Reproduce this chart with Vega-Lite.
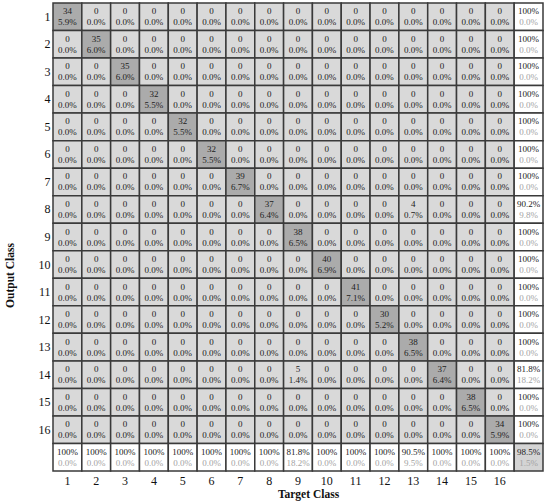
{
"$schema": "https://vega.github.io/schema/vega-lite/v6.json",
"width": 490, "height": 468,
"autosize": {"type": "none"},
"padding": {"left": 53, "top": 3, "right": 7, "bottom": 33},
"data": {"values": [
{"out":1,"tgt":1,"n":"34","pct":"5.9%","cell":"correct"},{"out":1,"tgt":2,"n":"0","pct":"0.0%","cell":"error"},{"out":1,"tgt":3,"n":"0","pct":"0.0%","cell":"error"},{"out":1,"tgt":4,"n":"0","pct":"0.0%","cell":"error"},{"out":1,"tgt":5,"n":"0","pct":"0.0%","cell":"error"},{"out":1,"tgt":6,"n":"0","pct":"0.0%","cell":"error"},{"out":1,"tgt":7,"n":"0","pct":"0.0%","cell":"error"},{"out":1,"tgt":8,"n":"0","pct":"0.0%","cell":"error"},{"out":1,"tgt":9,"n":"0","pct":"0.0%","cell":"error"},{"out":1,"tgt":10,"n":"0","pct":"0.0%","cell":"error"},{"out":1,"tgt":11,"n":"0","pct":"0.0%","cell":"error"},{"out":1,"tgt":12,"n":"0","pct":"0.0%","cell":"error"},{"out":1,"tgt":13,"n":"0","pct":"0.0%","cell":"error"},{"out":1,"tgt":14,"n":"0","pct":"0.0%","cell":"error"},{"out":1,"tgt":15,"n":"0","pct":"0.0%","cell":"error"},{"out":1,"tgt":16,"n":"0","pct":"0.0%","cell":"error"},{"out":1,"tgt":17,"n":"100%","pct":"0.0%","cell":"summary"},
{"out":2,"tgt":1,"n":"0","pct":"0.0%","cell":"error"},{"out":2,"tgt":2,"n":"35","pct":"6.0%","cell":"correct"},{"out":2,"tgt":3,"n":"0","pct":"0.0%","cell":"error"},{"out":2,"tgt":4,"n":"0","pct":"0.0%","cell":"error"},{"out":2,"tgt":5,"n":"0","pct":"0.0%","cell":"error"},{"out":2,"tgt":6,"n":"0","pct":"0.0%","cell":"error"},{"out":2,"tgt":7,"n":"0","pct":"0.0%","cell":"error"},{"out":2,"tgt":8,"n":"0","pct":"0.0%","cell":"error"},{"out":2,"tgt":9,"n":"0","pct":"0.0%","cell":"error"},{"out":2,"tgt":10,"n":"0","pct":"0.0%","cell":"error"},{"out":2,"tgt":11,"n":"0","pct":"0.0%","cell":"error"},{"out":2,"tgt":12,"n":"0","pct":"0.0%","cell":"error"},{"out":2,"tgt":13,"n":"0","pct":"0.0%","cell":"error"},{"out":2,"tgt":14,"n":"0","pct":"0.0%","cell":"error"},{"out":2,"tgt":15,"n":"0","pct":"0.0%","cell":"error"},{"out":2,"tgt":16,"n":"0","pct":"0.0%","cell":"error"},{"out":2,"tgt":17,"n":"100%","pct":"0.0%","cell":"summary"},
{"out":3,"tgt":1,"n":"0","pct":"0.0%","cell":"error"},{"out":3,"tgt":2,"n":"0","pct":"0.0%","cell":"error"},{"out":3,"tgt":3,"n":"35","pct":"6.0%","cell":"correct"},{"out":3,"tgt":4,"n":"0","pct":"0.0%","cell":"error"},{"out":3,"tgt":5,"n":"0","pct":"0.0%","cell":"error"},{"out":3,"tgt":6,"n":"0","pct":"0.0%","cell":"error"},{"out":3,"tgt":7,"n":"0","pct":"0.0%","cell":"error"},{"out":3,"tgt":8,"n":"0","pct":"0.0%","cell":"error"},{"out":3,"tgt":9,"n":"0","pct":"0.0%","cell":"error"},{"out":3,"tgt":10,"n":"0","pct":"0.0%","cell":"error"},{"out":3,"tgt":11,"n":"0","pct":"0.0%","cell":"error"},{"out":3,"tgt":12,"n":"0","pct":"0.0%","cell":"error"},{"out":3,"tgt":13,"n":"0","pct":"0.0%","cell":"error"},{"out":3,"tgt":14,"n":"0","pct":"0.0%","cell":"error"},{"out":3,"tgt":15,"n":"0","pct":"0.0%","cell":"error"},{"out":3,"tgt":16,"n":"0","pct":"0.0%","cell":"error"},{"out":3,"tgt":17,"n":"100%","pct":"0.0%","cell":"summary"},
{"out":4,"tgt":1,"n":"0","pct":"0.0%","cell":"error"},{"out":4,"tgt":2,"n":"0","pct":"0.0%","cell":"error"},{"out":4,"tgt":3,"n":"0","pct":"0.0%","cell":"error"},{"out":4,"tgt":4,"n":"32","pct":"5.5%","cell":"correct"},{"out":4,"tgt":5,"n":"0","pct":"0.0%","cell":"error"},{"out":4,"tgt":6,"n":"0","pct":"0.0%","cell":"error"},{"out":4,"tgt":7,"n":"0","pct":"0.0%","cell":"error"},{"out":4,"tgt":8,"n":"0","pct":"0.0%","cell":"error"},{"out":4,"tgt":9,"n":"0","pct":"0.0%","cell":"error"},{"out":4,"tgt":10,"n":"0","pct":"0.0%","cell":"error"},{"out":4,"tgt":11,"n":"0","pct":"0.0%","cell":"error"},{"out":4,"tgt":12,"n":"0","pct":"0.0%","cell":"error"},{"out":4,"tgt":13,"n":"0","pct":"0.0%","cell":"error"},{"out":4,"tgt":14,"n":"0","pct":"0.0%","cell":"error"},{"out":4,"tgt":15,"n":"0","pct":"0.0%","cell":"error"},{"out":4,"tgt":16,"n":"0","pct":"0.0%","cell":"error"},{"out":4,"tgt":17,"n":"100%","pct":"0.0%","cell":"summary"},
{"out":5,"tgt":1,"n":"0","pct":"0.0%","cell":"error"},{"out":5,"tgt":2,"n":"0","pct":"0.0%","cell":"error"},{"out":5,"tgt":3,"n":"0","pct":"0.0%","cell":"error"},{"out":5,"tgt":4,"n":"0","pct":"0.0%","cell":"error"},{"out":5,"tgt":5,"n":"32","pct":"5.5%","cell":"correct"},{"out":5,"tgt":6,"n":"0","pct":"0.0%","cell":"error"},{"out":5,"tgt":7,"n":"0","pct":"0.0%","cell":"error"},{"out":5,"tgt":8,"n":"0","pct":"0.0%","cell":"error"},{"out":5,"tgt":9,"n":"0","pct":"0.0%","cell":"error"},{"out":5,"tgt":10,"n":"0","pct":"0.0%","cell":"error"},{"out":5,"tgt":11,"n":"0","pct":"0.0%","cell":"error"},{"out":5,"tgt":12,"n":"0","pct":"0.0%","cell":"error"},{"out":5,"tgt":13,"n":"0","pct":"0.0%","cell":"error"},{"out":5,"tgt":14,"n":"0","pct":"0.0%","cell":"error"},{"out":5,"tgt":15,"n":"0","pct":"0.0%","cell":"error"},{"out":5,"tgt":16,"n":"0","pct":"0.0%","cell":"error"},{"out":5,"tgt":17,"n":"100%","pct":"0.0%","cell":"summary"},
{"out":6,"tgt":1,"n":"0","pct":"0.0%","cell":"error"},{"out":6,"tgt":2,"n":"0","pct":"0.0%","cell":"error"},{"out":6,"tgt":3,"n":"0","pct":"0.0%","cell":"error"},{"out":6,"tgt":4,"n":"0","pct":"0.0%","cell":"error"},{"out":6,"tgt":5,"n":"0","pct":"0.0%","cell":"error"},{"out":6,"tgt":6,"n":"32","pct":"5.5%","cell":"correct"},{"out":6,"tgt":7,"n":"0","pct":"0.0%","cell":"error"},{"out":6,"tgt":8,"n":"0","pct":"0.0%","cell":"error"},{"out":6,"tgt":9,"n":"0","pct":"0.0%","cell":"error"},{"out":6,"tgt":10,"n":"0","pct":"0.0%","cell":"error"},{"out":6,"tgt":11,"n":"0","pct":"0.0%","cell":"error"},{"out":6,"tgt":12,"n":"0","pct":"0.0%","cell":"error"},{"out":6,"tgt":13,"n":"0","pct":"0.0%","cell":"error"},{"out":6,"tgt":14,"n":"0","pct":"0.0%","cell":"error"},{"out":6,"tgt":15,"n":"0","pct":"0.0%","cell":"error"},{"out":6,"tgt":16,"n":"0","pct":"0.0%","cell":"error"},{"out":6,"tgt":17,"n":"100%","pct":"0.0%","cell":"summary"},
{"out":7,"tgt":1,"n":"0","pct":"0.0%","cell":"error"},{"out":7,"tgt":2,"n":"0","pct":"0.0%","cell":"error"},{"out":7,"tgt":3,"n":"0","pct":"0.0%","cell":"error"},{"out":7,"tgt":4,"n":"0","pct":"0.0%","cell":"error"},{"out":7,"tgt":5,"n":"0","pct":"0.0%","cell":"error"},{"out":7,"tgt":6,"n":"0","pct":"0.0%","cell":"error"},{"out":7,"tgt":7,"n":"39","pct":"6.7%","cell":"correct"},{"out":7,"tgt":8,"n":"0","pct":"0.0%","cell":"error"},{"out":7,"tgt":9,"n":"0","pct":"0.0%","cell":"error"},{"out":7,"tgt":10,"n":"0","pct":"0.0%","cell":"error"},{"out":7,"tgt":11,"n":"0","pct":"0.0%","cell":"error"},{"out":7,"tgt":12,"n":"0","pct":"0.0%","cell":"error"},{"out":7,"tgt":13,"n":"0","pct":"0.0%","cell":"error"},{"out":7,"tgt":14,"n":"0","pct":"0.0%","cell":"error"},{"out":7,"tgt":15,"n":"0","pct":"0.0%","cell":"error"},{"out":7,"tgt":16,"n":"0","pct":"0.0%","cell":"error"},{"out":7,"tgt":17,"n":"100%","pct":"0.0%","cell":"summary"},
{"out":8,"tgt":1,"n":"0","pct":"0.0%","cell":"error"},{"out":8,"tgt":2,"n":"0","pct":"0.0%","cell":"error"},{"out":8,"tgt":3,"n":"0","pct":"0.0%","cell":"error"},{"out":8,"tgt":4,"n":"0","pct":"0.0%","cell":"error"},{"out":8,"tgt":5,"n":"0","pct":"0.0%","cell":"error"},{"out":8,"tgt":6,"n":"0","pct":"0.0%","cell":"error"},{"out":8,"tgt":7,"n":"0","pct":"0.0%","cell":"error"},{"out":8,"tgt":8,"n":"37","pct":"6.4%","cell":"correct"},{"out":8,"tgt":9,"n":"0","pct":"0.0%","cell":"error"},{"out":8,"tgt":10,"n":"0","pct":"0.0%","cell":"error"},{"out":8,"tgt":11,"n":"0","pct":"0.0%","cell":"error"},{"out":8,"tgt":12,"n":"0","pct":"0.0%","cell":"error"},{"out":8,"tgt":13,"n":"4","pct":"0.7%","cell":"error"},{"out":8,"tgt":14,"n":"0","pct":"0.0%","cell":"error"},{"out":8,"tgt":15,"n":"0","pct":"0.0%","cell":"error"},{"out":8,"tgt":16,"n":"0","pct":"0.0%","cell":"error"},{"out":8,"tgt":17,"n":"90.2%","pct":"9.8%","cell":"summary"},
{"out":9,"tgt":1,"n":"0","pct":"0.0%","cell":"error"},{"out":9,"tgt":2,"n":"0","pct":"0.0%","cell":"error"},{"out":9,"tgt":3,"n":"0","pct":"0.0%","cell":"error"},{"out":9,"tgt":4,"n":"0","pct":"0.0%","cell":"error"},{"out":9,"tgt":5,"n":"0","pct":"0.0%","cell":"error"},{"out":9,"tgt":6,"n":"0","pct":"0.0%","cell":"error"},{"out":9,"tgt":7,"n":"0","pct":"0.0%","cell":"error"},{"out":9,"tgt":8,"n":"0","pct":"0.0%","cell":"error"},{"out":9,"tgt":9,"n":"38","pct":"6.5%","cell":"correct"},{"out":9,"tgt":10,"n":"0","pct":"0.0%","cell":"error"},{"out":9,"tgt":11,"n":"0","pct":"0.0%","cell":"error"},{"out":9,"tgt":12,"n":"0","pct":"0.0%","cell":"error"},{"out":9,"tgt":13,"n":"0","pct":"0.0%","cell":"error"},{"out":9,"tgt":14,"n":"0","pct":"0.0%","cell":"error"},{"out":9,"tgt":15,"n":"0","pct":"0.0%","cell":"error"},{"out":9,"tgt":16,"n":"0","pct":"0.0%","cell":"error"},{"out":9,"tgt":17,"n":"100%","pct":"0.0%","cell":"summary"},
{"out":10,"tgt":1,"n":"0","pct":"0.0%","cell":"error"},{"out":10,"tgt":2,"n":"0","pct":"0.0%","cell":"error"},{"out":10,"tgt":3,"n":"0","pct":"0.0%","cell":"error"},{"out":10,"tgt":4,"n":"0","pct":"0.0%","cell":"error"},{"out":10,"tgt":5,"n":"0","pct":"0.0%","cell":"error"},{"out":10,"tgt":6,"n":"0","pct":"0.0%","cell":"error"},{"out":10,"tgt":7,"n":"0","pct":"0.0%","cell":"error"},{"out":10,"tgt":8,"n":"0","pct":"0.0%","cell":"error"},{"out":10,"tgt":9,"n":"0","pct":"0.0%","cell":"error"},{"out":10,"tgt":10,"n":"40","pct":"6.9%","cell":"correct"},{"out":10,"tgt":11,"n":"0","pct":"0.0%","cell":"error"},{"out":10,"tgt":12,"n":"0","pct":"0.0%","cell":"error"},{"out":10,"tgt":13,"n":"0","pct":"0.0%","cell":"error"},{"out":10,"tgt":14,"n":"0","pct":"0.0%","cell":"error"},{"out":10,"tgt":15,"n":"0","pct":"0.0%","cell":"error"},{"out":10,"tgt":16,"n":"0","pct":"0.0%","cell":"error"},{"out":10,"tgt":17,"n":"100%","pct":"0.0%","cell":"summary"},
{"out":11,"tgt":1,"n":"0","pct":"0.0%","cell":"error"},{"out":11,"tgt":2,"n":"0","pct":"0.0%","cell":"error"},{"out":11,"tgt":3,"n":"0","pct":"0.0%","cell":"error"},{"out":11,"tgt":4,"n":"0","pct":"0.0%","cell":"error"},{"out":11,"tgt":5,"n":"0","pct":"0.0%","cell":"error"},{"out":11,"tgt":6,"n":"0","pct":"0.0%","cell":"error"},{"out":11,"tgt":7,"n":"0","pct":"0.0%","cell":"error"},{"out":11,"tgt":8,"n":"0","pct":"0.0%","cell":"error"},{"out":11,"tgt":9,"n":"0","pct":"0.0%","cell":"error"},{"out":11,"tgt":10,"n":"0","pct":"0.0%","cell":"error"},{"out":11,"tgt":11,"n":"41","pct":"7.1%","cell":"correct"},{"out":11,"tgt":12,"n":"0","pct":"0.0%","cell":"error"},{"out":11,"tgt":13,"n":"0","pct":"0.0%","cell":"error"},{"out":11,"tgt":14,"n":"0","pct":"0.0%","cell":"error"},{"out":11,"tgt":15,"n":"0","pct":"0.0%","cell":"error"},{"out":11,"tgt":16,"n":"0","pct":"0.0%","cell":"error"},{"out":11,"tgt":17,"n":"100%","pct":"0.0%","cell":"summary"},
{"out":12,"tgt":1,"n":"0","pct":"0.0%","cell":"error"},{"out":12,"tgt":2,"n":"0","pct":"0.0%","cell":"error"},{"out":12,"tgt":3,"n":"0","pct":"0.0%","cell":"error"},{"out":12,"tgt":4,"n":"0","pct":"0.0%","cell":"error"},{"out":12,"tgt":5,"n":"0","pct":"0.0%","cell":"error"},{"out":12,"tgt":6,"n":"0","pct":"0.0%","cell":"error"},{"out":12,"tgt":7,"n":"0","pct":"0.0%","cell":"error"},{"out":12,"tgt":8,"n":"0","pct":"0.0%","cell":"error"},{"out":12,"tgt":9,"n":"0","pct":"0.0%","cell":"error"},{"out":12,"tgt":10,"n":"0","pct":"0.0%","cell":"error"},{"out":12,"tgt":11,"n":"0","pct":"0.0%","cell":"error"},{"out":12,"tgt":12,"n":"30","pct":"5.2%","cell":"correct"},{"out":12,"tgt":13,"n":"0","pct":"0.0%","cell":"error"},{"out":12,"tgt":14,"n":"0","pct":"0.0%","cell":"error"},{"out":12,"tgt":15,"n":"0","pct":"0.0%","cell":"error"},{"out":12,"tgt":16,"n":"0","pct":"0.0%","cell":"error"},{"out":12,"tgt":17,"n":"100%","pct":"0.0%","cell":"summary"},
{"out":13,"tgt":1,"n":"0","pct":"0.0%","cell":"error"},{"out":13,"tgt":2,"n":"0","pct":"0.0%","cell":"error"},{"out":13,"tgt":3,"n":"0","pct":"0.0%","cell":"error"},{"out":13,"tgt":4,"n":"0","pct":"0.0%","cell":"error"},{"out":13,"tgt":5,"n":"0","pct":"0.0%","cell":"error"},{"out":13,"tgt":6,"n":"0","pct":"0.0%","cell":"error"},{"out":13,"tgt":7,"n":"0","pct":"0.0%","cell":"error"},{"out":13,"tgt":8,"n":"0","pct":"0.0%","cell":"error"},{"out":13,"tgt":9,"n":"0","pct":"0.0%","cell":"error"},{"out":13,"tgt":10,"n":"0","pct":"0.0%","cell":"error"},{"out":13,"tgt":11,"n":"0","pct":"0.0%","cell":"error"},{"out":13,"tgt":12,"n":"0","pct":"0.0%","cell":"error"},{"out":13,"tgt":13,"n":"38","pct":"6.5%","cell":"correct"},{"out":13,"tgt":14,"n":"0","pct":"0.0%","cell":"error"},{"out":13,"tgt":15,"n":"0","pct":"0.0%","cell":"error"},{"out":13,"tgt":16,"n":"0","pct":"0.0%","cell":"error"},{"out":13,"tgt":17,"n":"100%","pct":"0.0%","cell":"summary"},
{"out":14,"tgt":1,"n":"0","pct":"0.0%","cell":"error"},{"out":14,"tgt":2,"n":"0","pct":"0.0%","cell":"error"},{"out":14,"tgt":3,"n":"0","pct":"0.0%","cell":"error"},{"out":14,"tgt":4,"n":"0","pct":"0.0%","cell":"error"},{"out":14,"tgt":5,"n":"0","pct":"0.0%","cell":"error"},{"out":14,"tgt":6,"n":"0","pct":"0.0%","cell":"error"},{"out":14,"tgt":7,"n":"0","pct":"0.0%","cell":"error"},{"out":14,"tgt":8,"n":"0","pct":"0.0%","cell":"error"},{"out":14,"tgt":9,"n":"5","pct":"1.4%","cell":"error"},{"out":14,"tgt":10,"n":"0","pct":"0.0%","cell":"error"},{"out":14,"tgt":11,"n":"0","pct":"0.0%","cell":"error"},{"out":14,"tgt":12,"n":"0","pct":"0.0%","cell":"error"},{"out":14,"tgt":13,"n":"0","pct":"0.0%","cell":"error"},{"out":14,"tgt":14,"n":"37","pct":"6.4%","cell":"correct"},{"out":14,"tgt":15,"n":"0","pct":"0.0%","cell":"error"},{"out":14,"tgt":16,"n":"0","pct":"0.0%","cell":"error"},{"out":14,"tgt":17,"n":"81.8%","pct":"18.2%","cell":"summary"},
{"out":15,"tgt":1,"n":"0","pct":"0.0%","cell":"error"},{"out":15,"tgt":2,"n":"0","pct":"0.0%","cell":"error"},{"out":15,"tgt":3,"n":"0","pct":"0.0%","cell":"error"},{"out":15,"tgt":4,"n":"0","pct":"0.0%","cell":"error"},{"out":15,"tgt":5,"n":"0","pct":"0.0%","cell":"error"},{"out":15,"tgt":6,"n":"0","pct":"0.0%","cell":"error"},{"out":15,"tgt":7,"n":"0","pct":"0.0%","cell":"error"},{"out":15,"tgt":8,"n":"0","pct":"0.0%","cell":"error"},{"out":15,"tgt":9,"n":"0","pct":"0.0%","cell":"error"},{"out":15,"tgt":10,"n":"0","pct":"0.0%","cell":"error"},{"out":15,"tgt":11,"n":"0","pct":"0.0%","cell":"error"},{"out":15,"tgt":12,"n":"0","pct":"0.0%","cell":"error"},{"out":15,"tgt":13,"n":"0","pct":"0.0%","cell":"error"},{"out":15,"tgt":14,"n":"0","pct":"0.0%","cell":"error"},{"out":15,"tgt":15,"n":"38","pct":"6.5%","cell":"correct"},{"out":15,"tgt":16,"n":"0","pct":"0.0%","cell":"error"},{"out":15,"tgt":17,"n":"100%","pct":"0.0%","cell":"summary"},
{"out":16,"tgt":1,"n":"0","pct":"0.0%","cell":"error"},{"out":16,"tgt":2,"n":"0","pct":"0.0%","cell":"error"},{"out":16,"tgt":3,"n":"0","pct":"0.0%","cell":"error"},{"out":16,"tgt":4,"n":"0","pct":"0.0%","cell":"error"},{"out":16,"tgt":5,"n":"0","pct":"0.0%","cell":"error"},{"out":16,"tgt":6,"n":"0","pct":"0.0%","cell":"error"},{"out":16,"tgt":7,"n":"0","pct":"0.0%","cell":"error"},{"out":16,"tgt":8,"n":"0","pct":"0.0%","cell":"error"},{"out":16,"tgt":9,"n":"0","pct":"0.0%","cell":"error"},{"out":16,"tgt":10,"n":"0","pct":"0.0%","cell":"error"},{"out":16,"tgt":11,"n":"0","pct":"0.0%","cell":"error"},{"out":16,"tgt":12,"n":"0","pct":"0.0%","cell":"error"},{"out":16,"tgt":13,"n":"0","pct":"0.0%","cell":"error"},{"out":16,"tgt":14,"n":"0","pct":"0.0%","cell":"error"},{"out":16,"tgt":15,"n":"0","pct":"0.0%","cell":"error"},{"out":16,"tgt":16,"n":"34","pct":"5.9%","cell":"correct"},{"out":16,"tgt":17,"n":"100%","pct":"0.0%","cell":"summary"},
{"out":17,"tgt":1,"n":"100%","pct":"0.0%","cell":"summary"},{"out":17,"tgt":2,"n":"100%","pct":"0.0%","cell":"summary"},{"out":17,"tgt":3,"n":"100%","pct":"0.0%","cell":"summary"},{"out":17,"tgt":4,"n":"100%","pct":"0.0%","cell":"summary"},{"out":17,"tgt":5,"n":"100%","pct":"0.0%","cell":"summary"},{"out":17,"tgt":6,"n":"100%","pct":"0.0%","cell":"summary"},{"out":17,"tgt":7,"n":"100%","pct":"0.0%","cell":"summary"},{"out":17,"tgt":8,"n":"100%","pct":"0.0%","cell":"summary"},{"out":17,"tgt":9,"n":"81.8%","pct":"18.2%","cell":"summary"},{"out":17,"tgt":10,"n":"100%","pct":"0.0%","cell":"summary"},{"out":17,"tgt":11,"n":"100%","pct":"0.0%","cell":"summary"},{"out":17,"tgt":12,"n":"100%","pct":"0.0%","cell":"summary"},{"out":17,"tgt":13,"n":"90.5%","pct":"9.5%","cell":"summary"},{"out":17,"tgt":14,"n":"100%","pct":"0.0%","cell":"summary"},{"out":17,"tgt":15,"n":"100%","pct":"0.0%","cell":"summary"},{"out":17,"tgt":16,"n":"100%","pct":"0.0%","cell":"summary"},{"out":17,"tgt":17,"n":"98.5%","pct":"1.5%","cell":"overall"}
]},
"encoding": {
  "x": {"field": "tgt", "type": "ordinal", "scale": {"paddingInner": 0, "paddingOuter": 0},
    "axis": {"title": "Target Class", "titleFont": "Liberation Serif", "titleFontSize": 11.5, "titleFontWeight": "bold", "titleColor": "#111",
      "titleX": 255, "titleY": 17, "titleAlign": "center", "titleBaseline": "top",
      "labelFont": "Liberation Serif", "labelFontSize": 12, "labelColor": "#111", "labelAngle": 0, "labelPadding": 4,
      "ticks": false, "domain": false, "labelExpr": "datum.label == '17' ? '' : datum.label"}},
  "y": {"field": "out", "type": "ordinal", "scale": {"paddingInner": 0, "paddingOuter": 0},
    "axis": {"title": "Output Class", "titleFont": "Liberation Serif", "titleFontSize": 11.5, "titleFontWeight": "bold", "titleColor": "#111",
      "titleX": -38, "titleY": 272, "titleAlign": "center", "titleBaseline": "bottom", "titleAngle": -90,
      "labelFont": "Liberation Serif", "labelFontSize": 12, "labelColor": "#111", "labelPadding": 3,
      "ticks": false, "domain": false, "labelExpr": "datum.label == '17' ? '' : datum.label"}}
},
"layer": [
  {"mark": {"type": "rect", "stroke": "#3a3a3a", "strokeWidth": 1.5},
   "encoding": {"fill": {"field": "cell", "type": "nominal", "legend": null,
     "scale": {"domain": ["correct", "error", "summary", "overall"], "range": ["#ababab", "#d9d9d9", "#ffffff", "#d4d4d4"]}}}},
  {"mark": {"type": "text", "dy": -5.5, "baseline": "middle", "font": "Liberation Serif", "fontSize": 9},
   "encoding": {"text": {"field": "n"}, "color": {"value": "#222222"}}},
  {"mark": {"type": "text", "dy": 5.5, "baseline": "middle", "font": "Liberation Serif", "fontSize": 9},
   "encoding": {"text": {"field": "pct"},
     "color": {"condition": {"test": "datum.cell == 'summary' || datum.cell == 'overall'", "value": "#a3a3a3"}, "value": "#222222"}}}
],
"config": {"view": {"stroke": null}}
}
